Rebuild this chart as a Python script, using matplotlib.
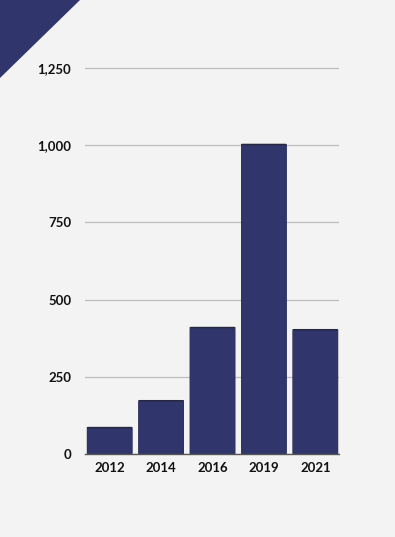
import matplotlib
matplotlib.use("Agg")
import matplotlib.pyplot as plt
from matplotlib.patches import Polygon, FancyBboxPatch

# data
years = ["2012", "2014", "2016", "2019", "2021"]
values = [88, 175, 412, 1005, 405]
yticks = [0, 250, 500, 750, 1000, 1250]

BG = "#f3f3f3"
BAR = "#30356b"
EDGE = "#25283f"

plt.rcParams["font.family"] = ["Lato", "DejaVu Sans"]

W, H = 395, 537
fig = plt.figure(figsize=(W / 100, H / 100), dpi=100, facecolor=BG)
ax = fig.add_axes([85 / W, 1 - 454 / H, (339 - 85) / W, (454 - 65) / H])
ax.set_facecolor(BG)

# corner triangle
tri = Polygon([(0, 1), (80 / W, 1), (0, 1 - 78 / H)], closed=True,
              transform=fig.transFigure, facecolor=BAR, edgecolor="none")
fig.patches.append(tri)

x = list(range(len(years)))
width = 0.89
for xi, v in zip(x, values):
    # dark top edge, then the bar body with softly rounded corners
    top = FancyBboxPatch((xi - width / 2, 0), width, v,
                         boxstyle="round,pad=0,rounding_size=0.04",
                         mutation_aspect=30, facecolor=EDGE,
                         edgecolor="none", zorder=3)
    ax.add_patch(top)
    body = FancyBboxPatch((xi - width / 2 + 0.005, 0), width - 0.01, v - 5,
                          boxstyle="round,pad=0,rounding_size=0.04",
                          mutation_aspect=30, facecolor=BAR,
                          edgecolor="none", zorder=3)
    ax.add_patch(body)

ax.set_xlim(-0.48, len(years) - 0.54)
ax.set_ylim(0, 1260)
ax.set_xticks(x)
ax.set_xticklabels(years)
ax.set_yticks(yticks)
ax.set_yticklabels([f"{t:,}" for t in yticks])
ax.yaxis.grid(True, color="#bdbdbd", linewidth=0.9)
ax.set_axisbelow(True)

for s in ["top", "right", "left"]:
    ax.spines[s].set_visible(False)
ax.spines["bottom"].set_color("#555555")
ax.spines["bottom"].set_linewidth(1.0)
ax.spines["bottom"].set_zorder(4)

ax.tick_params(axis="both", length=0, labelsize=9.5, colors="#111111")
ax.tick_params(axis="y", pad=10)
ax.tick_params(axis="x", pad=6)
for lab in ax.get_xticklabels() + ax.get_yticklabels():
    lab.set_fontweight("bold")

fig.savefig("out.png", dpi=100, facecolor=BG)
